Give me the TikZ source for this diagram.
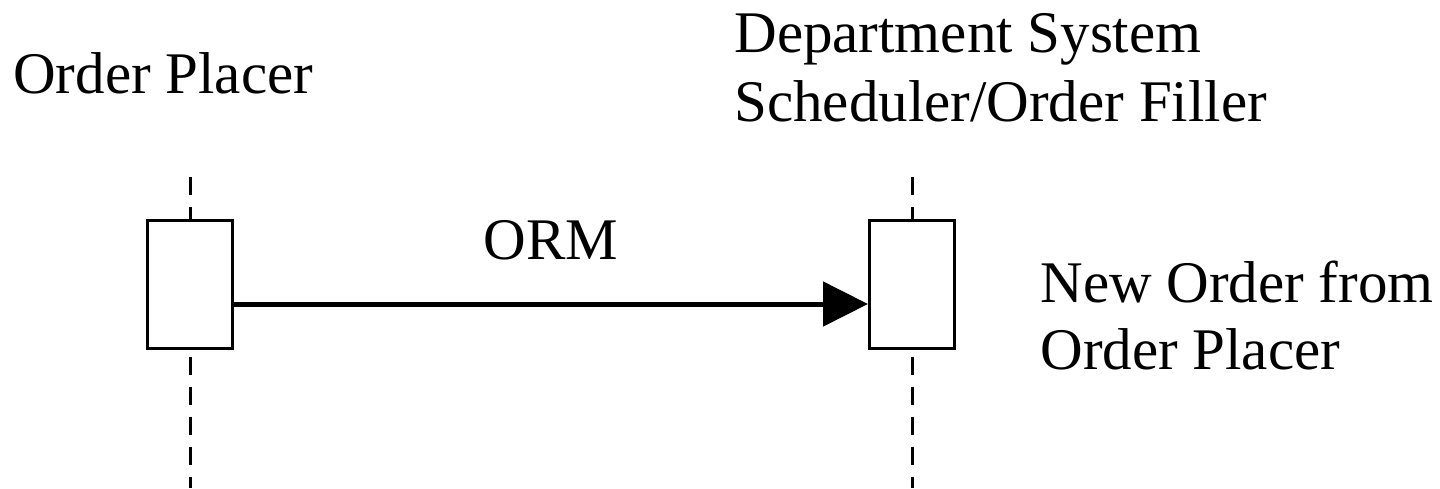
\documentclass[tikz,border=0pt]{standalone}
\usepackage{fontspec}
\setmainfont{Liberation Serif}
\usetikzlibrary{arrows.meta}

\begin{document}
\begin{tikzpicture}[x=0.5pt, y=-0.5pt,
		actbox/.style={draw, line width=1.5pt, fill=white, minimum width=42.5pt, minimum height=64pt, inner sep=0pt},
		lifeline/.style={line width=1.5pt, dash pattern=on 9pt off 6pt},
		lbl/.style={font=\fontsize{29.5}{30}\selectfont, inner sep=0pt}]
	\useasboundingbox (0,0) rectangle (1440,488);
	% actors
	\node[lbl, anchor=base west] (placer) at (13,93) {Order Placer};
	\node[lbl, anchor=base west] (deptA) at (734,52) {Department System};
	\node[lbl, anchor=base west] (deptB) at (734,121) {Scheduler/Order Filler};
	% lifelines
	\node[actbox] (opbox) at (190,284) {};
	\node[actbox] (dsbox) at (912,284) {};
	\coordinate (optop) at (190,177);
	\coordinate (opbot) at (190,488);
	\coordinate (dstop) at (912,177);
	\coordinate (dsbot) at (912,488);
	\draw[lifeline] (optop) -- (opbox.north);
	\draw[lifeline] ([yshift=-3.5pt]opbox.south) -- (opbot);
	\draw[lifeline] (dstop) -- (dsbox.north);
	\draw[lifeline] ([yshift=-3.5pt]dsbox.south) -- (dsbot);
	% message
	\draw[line width=2.5pt, -{Triangle[length=22.5pt, width=22pt]}] ([yshift=-10pt]opbox.east) -- node[lbl, above=20.5pt] (orm) {ORM} ([yshift=-10pt]dsbox.west);
	\node[lbl, anchor=base west] (noteA) at (1040,302) {New Order from};
	\node[lbl, anchor=base west] (noteB) at (1040,369) {Order Placer};
\end{tikzpicture}
\end{document}
